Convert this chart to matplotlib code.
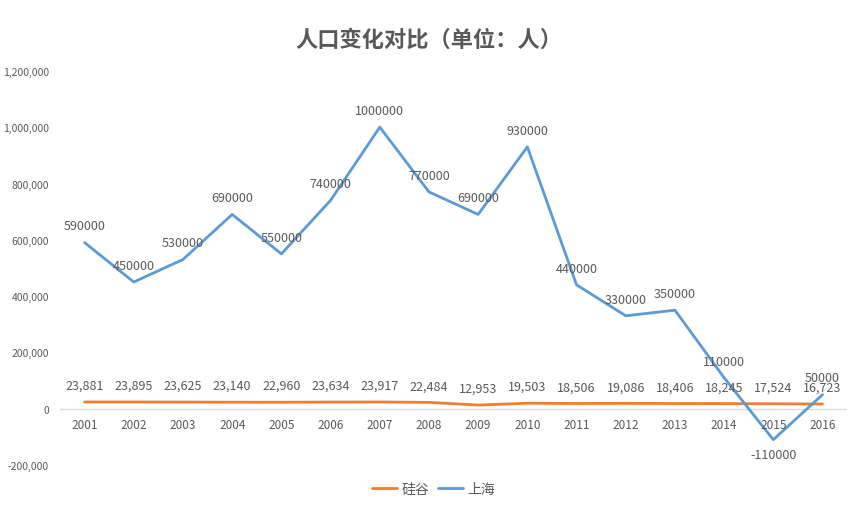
import matplotlib
matplotlib.use("Agg")
import matplotlib.pyplot as plt
from matplotlib.ticker import FuncFormatter, MultipleLocator

plt.rcParams['font.family'] = ['Noto Sans CJK SC', 'DejaVu Sans']

years = ['2001', '2002', '2003', '2004', '2005', '2006', '2007', '2008',
         '2009', '2010', '2011', '2012', '2013', '2014', '2015', '2016']
silicon_valley = [23881, 23895, 23625, 23140, 22960, 23634, 23917, 22484,
                  12953, 19503, 18506, 19086, 18406, 18245, 17524, 16723]
shanghai = [590000, 450000, 530000, 690000, 550000, 740000, 1000000, 770000,
            690000, 930000, 440000, 330000, 350000, 110000, -110000, 50000]

ORANGE = '#ED7D31'
BLUE = '#5B9BD5'
TXT = '#595959'

fig = plt.figure(figsize=(8.5, 5.06), dpi=100)
ax = fig.add_axes([0.0706, 0.079, 0.926, 0.779])

x = list(range(len(years)))
ax.plot(x, silicon_valley, color=ORANGE, lw=2.0, label='硅谷', solid_capstyle='round')
ax.plot(x, shanghai, color=BLUE, lw=2.0, label='上海', solid_capstyle='round')

ax.set_xlim(-0.5, len(years) - 0.5)
ax.set_ylim(-200000, 1200000)
ax.yaxis.set_major_locator(MultipleLocator(200000))
ax.yaxis.set_major_formatter(FuncFormatter(lambda v, p: f'{int(v):,}'))

for s in ['top', 'right', 'left', 'bottom']:
    ax.spines[s].set_visible(False)
ax.axhline(0, color='#D9D9D9', lw=1.0, zorder=0)
ax.tick_params(axis='both', length=0, colors=TXT, labelsize=7.5)
ax.tick_params(axis='y', pad=8)
ax.set_xticks([])

# x labels just below the zero line
for i, yr in enumerate(years):
    ax.annotate(yr, (i, 0), xytext=(0, -11.5), textcoords='offset points',
                ha='center', va='center', fontsize=8.5, color=TXT)

for i, v in enumerate(silicon_valley):
    ax.annotate(f'{v:,}', (i, v), xytext=(0, 12), textcoords='offset points',
                ha='center', va='center', fontsize=9, color=TXT)

for i, v in enumerate(shanghai):
    dy = -11 if v < 0 else 12
    ax.annotate(f'{v}', (i, v), xytext=(0, dy), textcoords='offset points',
                ha='center', va='center', fontsize=9, color=TXT)

fig.text(0.505, 0.921, '人口变化对比（单位：人）', ha='center', va='center',
         fontsize=16, fontweight='bold', color=TXT)

leg = fig.legend(loc='center', bbox_to_anchor=(0.51, 0.032), ncol=2, frameon=False,
                 fontsize=10, handlelength=1.8, columnspacing=0.6, handletextpad=0.3)
for t in leg.get_texts():
    t.set_color(TXT)

fig.savefig('out.png', dpi=100, facecolor='white')
